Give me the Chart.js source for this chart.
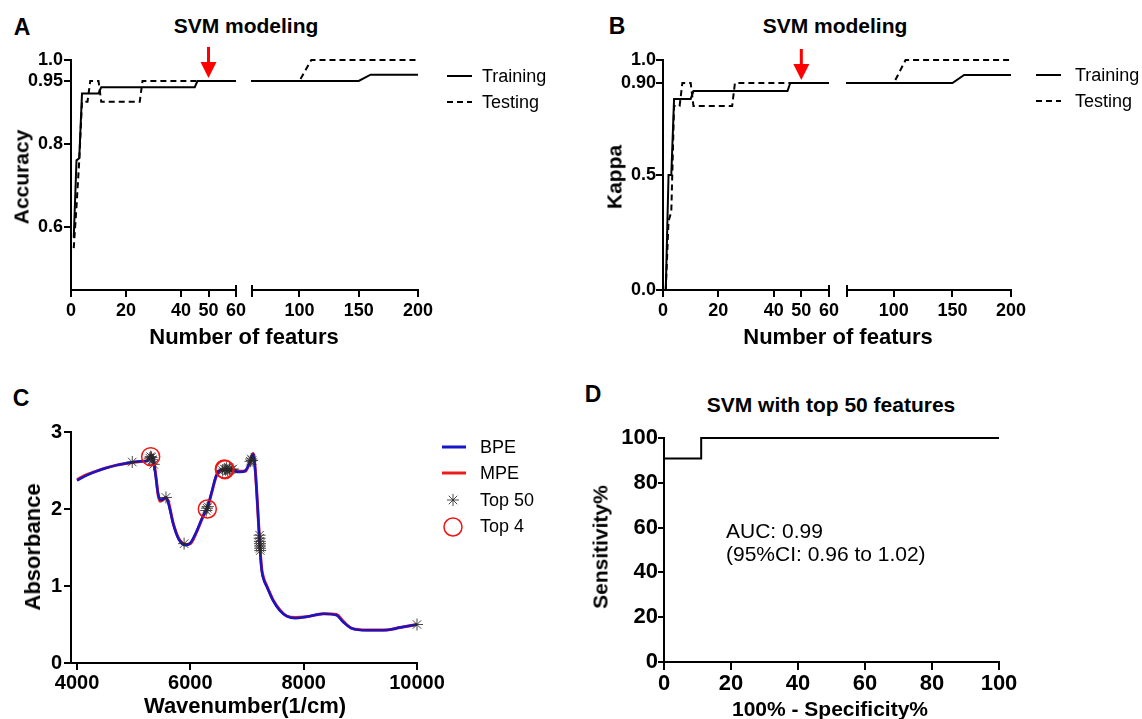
<!DOCTYPE html>
<html>
<head>
<meta charset="utf-8">
<script src="https://cdn.jsdelivr.net/npm/chart.js@4.4.1/dist/chart.umd.min.js"></script>
<style>
body { margin: 0; background: #fff; }
#fig { position: relative; width: 1142px; height: 719px; background: #fff; overflow: hidden;
       font-family: "Liberation Sans", Arial, Helvetica, sans-serif; color: #000; }
#fig canvas { position: absolute; }
.t { position: absolute; white-space: nowrap; line-height: 1; transform: translate(-50%, -50%); }
.b { font-weight: bold; }
.l { transform: translate(0, -50%); }
.v { transform: translate(-50%, -50%) rotate(-90deg); }
</style>
</head>
<body>
<div id="fig">
  <canvas id="a1"></canvas>
  <canvas id="a2"></canvas>
  <canvas id="b1"></canvas>
  <canvas id="b2"></canvas>
  <canvas id="c"></canvas>
  <canvas id="d"></canvas>

  <div class="t b" style="left:22px;top:27px;font-size:23px">A</div>
  <div class="t b" style="left:617px;top:26px;font-size:23px">B</div>
  <div class="t b" style="left:21px;top:398px;font-size:23px">C</div>
  <div class="t b" style="left:593px;top:394px;font-size:23px">D</div>

  <div class="t b" style="left:246px;top:25px;font-size:21px">SVM modeling</div>
  <div class="t b" style="left:835px;top:25px;font-size:21px">SVM modeling</div>
  <div class="t b v" style="left:21px;top:177px;font-size:21px">Accuracy</div>
  <div class="t b v" style="left:614px;top:177px;font-size:21px">Kappa</div>
  <div class="t b" style="left:244px;top:337px;font-size:22px">Number of featurs</div>
  <div class="t b" style="left:838px;top:337px;font-size:22px">Number of featurs</div>
  <div class="t l" style="left:482px;top:76px;font-size:18px">Training</div>
  <div class="t l" style="left:482px;top:102px;font-size:18px">Testing</div>
  <div class="t l" style="left:1075px;top:75px;font-size:18px">Training</div>
  <div class="t l" style="left:1075px;top:101px;font-size:18px">Testing</div>

  <div class="t b v" style="left:33px;top:547px;font-size:22px">Absorbance</div>
  <div class="t b" style="left:245px;top:706px;font-size:22px">Wavenumber(1/cm)</div>
  <div class="t l" style="left:480px;top:447px;font-size:18px">BPE</div>
  <div class="t l" style="left:480px;top:473px;font-size:18px">MPE</div>
  <div class="t l" style="left:480px;top:500px;font-size:18px">Top 50</div>
  <div class="t l" style="left:480px;top:526px;font-size:18px">Top 4</div>

  <div class="t b" style="left:831px;top:404px;font-size:21px">SVM with top 50 features</div>
  <div class="t b v" style="left:600px;top:547px;font-size:21px">Sensitivity%</div>
  <div class="t b" style="left:830px;top:708px;font-size:21px">100% - Specificity%</div>
  <div class="t l" style="left:726px;top:530px;font-size:21px">AUC: 0.99</div>
  <div class="t l" style="left:726px;top:553px;font-size:21px">(95%CI: 0.96 to 1.02)</div>
</div>

<script>
const FONT = "'Liberation Sans', Arial, Helvetica, sans-serif";

// A - accuracy vs number of features
const featTrainA = [1, 2, 3, 4, 10, 11, 45, 46, 60, 100, 150, 160, 200];
const accTrain   = [0.575, 0.76, 0.765, 0.92, 0.92, 0.935, 0.935, 0.95, 0.95, 0.95, 0.95, 0.965, 0.965];
const featTestA  = [1, 2, 3, 4, 6, 7, 10, 11, 25, 26, 60, 100, 110, 200];
const accTest    = [0.55, 0.65, 0.76, 0.90, 0.90, 0.95, 0.95, 0.90, 0.90, 0.95, 0.95, 0.95, 1.0, 1.0];

// B - kappa vs number of features
const featTrainB = [1, 2, 3, 4, 10, 11, 45, 46, 60, 100, 150, 160, 200];
const kapTrain   = [0, 0.5, 0.5, 0.83, 0.83, 0.865, 0.865, 0.90, 0.90, 0.90, 0.90, 0.935, 0.935];
const featTestB  = [1, 2, 3, 4, 6, 7, 10, 11, 25, 26, 60, 100, 110, 200];
const kapTest    = [0, 0.30, 0.34, 0.80, 0.80, 0.90, 0.90, 0.80, 0.80, 0.90, 0.90, 0.90, 1.0, 1.0];

const bestFeat = 50;   // red arrow
const tickFeat1 = [0, 20, 40, 50, 60];
const tickFeat1Labels = ['0', '20', '40', '50', '60'];
const tickFeat2 = [60, 100, 150, 200];
const tickFeat2Labels = ['', '100', '150', '200'];
const tickAcc = [0.6, 0.8, 0.95, 1.0];
const tickAccLabels = ['0.6', '0.8', '0.95', '1.0'];
const tickKap = [0, 0.5, 0.9, 1.0];
const tickKapLabels = ['0.0', '0.5', '0.90', '1.0'];

// C - spectra
const wavenumber = [4000, 4150, 4300, 4500, 4700, 4950, 5150, 5240, 5300, 5340, 5390, 5430, 5470, 5520, 5565,
  5610, 5700, 5800, 5920, 6000, 6110, 6230, 6300, 6380, 6460, 6550, 6700, 6880, 6970, 7050, 7110, 7145,
  7185, 7230, 7260, 7300, 7350, 7460, 7580, 7700, 7850, 8050, 8350, 8580, 8700, 8850, 9120, 9470, 9700, 10000];
const absBPE = [2.37, 2.43, 2.48, 2.53, 2.57, 2.605, 2.62, 2.62, 2.69, 2.66, 2.42, 2.20, 2.12, 2.13, 2.15,
  2.08, 1.80, 1.60, 1.53, 1.56, 1.71, 1.92, 2.02, 2.23, 2.44, 2.51, 2.50, 2.48, 2.50, 2.60, 2.71, 2.50,
  2.05, 1.47, 1.20, 1.07, 0.99, 0.81, 0.68, 0.61, 0.58, 0.60, 0.64, 0.62, 0.53, 0.45, 0.425, 0.43, 0.46, 0.50];
const absMPE = [2.38, 2.44, 2.48, 2.53, 2.57, 2.60, 2.62, 2.63, 2.70, 2.67, 2.44, 2.19, 2.10, 2.12, 2.15,
  2.10, 1.81, 1.61, 1.54, 1.55, 1.70, 1.91, 2.01, 2.22, 2.43, 2.50, 2.51, 2.49, 2.49, 2.61, 2.72, 2.52,
  2.06, 1.49, 1.22, 1.09, 1.00, 0.82, 0.69, 0.61, 0.59, 0.60, 0.64, 0.63, 0.54, 0.45, 0.43, 0.43, 0.46, 0.50];
const top50Wn  = [4975, 5285, 5300, 5315, 5330, 5355, 5570, 5890, 6280, 6295, 6310, 6570, 6600, 6620, 6640,
  6660, 6690, 6720, 6750, 7060, 7075, 7090, 7222, 7224, 7226, 7228, 7230, 7232, 7234, 10000];
const top50Abs = [2.61, 2.66, 2.68, 2.67, 2.64, 2.58, 2.15, 1.55, 1.98, 2.01, 2.03, 2.50, 2.52, 2.51, 2.53,
  2.50, 2.52, 2.51, 2.52, 2.62, 2.65, 2.63, 1.66, 1.62, 1.58, 1.55, 1.52, 1.49, 1.46, 0.50];
const top4Wn  = [5300, 6300, 6600, 6610];
const top4Abs = [2.68, 2.00, 2.52, 2.51];
const tickWn = [4000, 6000, 8000, 10000];
const tickWnLabels = ['4000', '6000', '8000', '10000'];
const tickAbs = [0, 1, 2, 3];
const tickAbsLabels = ['0', '1', '2', '3'];

// D - ROC
const rocFpr = [0, 0, 11.1, 11.1, 100];
const rocTpr = [0, 90.9, 90.9, 100, 100];
const tickPct = [0, 20, 40, 60, 80, 100];
const tickPctLabels = ['0', '20', '40', '60', '80', '100'];

const pts = (xs, ys) => xs.map((x, i) => ({x: x, y: ys[i]}));

function axis(kind, s, size, show) {
  return {
    type: 'linear', position: kind === 'x' ? 'bottom' : 'left', display: show !== false,
    min: s.min, max: s.max,
    afterBuildTicks: sc => { sc.ticks = s.ticks.map(v => ({value: v})); },
    afterFit: sc => { if (kind === 'x') sc.height = size; else sc.width = size; },
    ticks: {
      autoSkip: false, maxRotation: 0, minRotation: 0, padding: s.pad, color: '#000',
      font: {family: FONT, size: s.font, weight: 'bold'},
      callback: (v, i) => s.labels[i]
    },
    grid: {display: true, drawOnChartArea: false, drawTicks: true, tickLength: s.tick, color: '#000', lineWidth: 2},
    border: {display: true, color: '#000', width: 2}
  };
}

// arrows, broken-axis caps and legend keys
function extras(cfg, box) {
  return {
    id: 'extras',
    afterDraw(chart) {
      const ctx = chart.ctx, a = chart.chartArea;
      ctx.save();
      (cfg.caps || []).forEach(side => {
        const px = side === 'right' ? a.right : a.left;
        ctx.strokeStyle = '#000'; ctx.lineWidth = 2;
        ctx.beginPath(); ctx.moveTo(px, a.bottom - 5); ctx.lineTo(px, a.bottom + 7); ctx.stroke();
      });
      if (cfg.arrow) {
        const x = chart.scales.x.getPixelForValue(cfg.arrow.x);
        const y = chart.scales.y.getPixelForValue(cfg.arrow.y) - 3;
        ctx.fillStyle = '#f00';
        ctx.fillRect(x - 1.5, y - 31, 3, 16);
        ctx.beginPath(); ctx.moveTo(x - 8, y - 16); ctx.lineTo(x + 8, y - 16); ctx.lineTo(x, y); ctx.closePath(); ctx.fill();
      }
      (cfg.legend || []).forEach(it => {
        const x = it.x - box.x, y = it.y - box.y;
        ctx.setLineDash(it.dash || []);
        ctx.strokeStyle = it.color;
        if (it.type === 'line') {
          ctx.lineWidth = it.width;
          ctx.beginPath(); ctx.moveTo(x, y); ctx.lineTo(x + it.len, y); ctx.stroke();
        } else if (it.type === 'star') {
          ctx.lineWidth = 1;
          ctx.beginPath();
          for (let k = 0; k < 4; k++) {
            const r = k * Math.PI / 4;
            ctx.moveTo(x - Math.cos(r) * it.r, y - Math.sin(r) * it.r);
            ctx.lineTo(x + Math.cos(r) * it.r, y + Math.sin(r) * it.r);
          }
          ctx.stroke();
        } else {
          ctx.lineWidth = 1.5;
          ctx.beginPath(); ctx.arc(x, y, it.r, 0, Math.PI * 2); ctx.stroke();
        }
      });
      ctx.restore();
    }
  };
}

function makeChart(id, box, area, cfg) {
  const cv = document.getElementById(id);
  cv.width = box.w; cv.height = box.h;
  cv.style.left = box.x + 'px'; cv.style.top = box.y + 'px';
  const hasY = cfg.yShow !== false;
  return new Chart(cv, {
    type: 'scatter',
    data: {datasets: cfg.datasets},
    options: {
      responsive: false, animation: false, events: [],
      layout: {padding: {left: hasY ? 0 : area.l - box.x, top: area.t - box.y, right: box.x + box.w - area.r, bottom: 0}},
      plugins: {legend: {display: false}, tooltip: {enabled: false}},
      scales: {
        x: axis('x', cfg.x, box.y + box.h - area.b),
        y: axis('y', cfg.y, hasY ? area.l - box.x : 0, hasY)
      }
    },
    plugins: [extras(cfg.extras || {}, box)]
  });
}

function featureSets(fx1, fy1, fx2, fy2) {
  const base = {showLine: true, pointRadius: 0, borderColor: '#000', borderWidth: 2,
                clip: {left: 1, right: 1, top: 4, bottom: 4}};
  return [
    Object.assign({label: 'Training', data: pts(fx1, fy1)}, base),
    Object.assign({label: 'Testing', data: pts(fx2, fy2), borderDash: [6, 4]}, base)
  ];
}

const xSeg1 = {min: 0, max: 60, ticks: tickFeat1, labels: tickFeat1Labels, font: 18, pad: 3, tick: 7};
const xSeg2 = {min: 60, max: 200, ticks: tickFeat2, labels: tickFeat2Labels, font: 18, pad: 3, tick: 7};
const yAcc = {min: 0.45, max: 1.0, ticks: tickAcc, labels: tickAccLabels, font: 18, pad: 1, tick: 7};
const yKap = {min: 0, max: 1.0, ticks: tickKap, labels: tickKapLabels, font: 18, pad: 0, tick: 7};

// panel A
makeChart('a1', {x: 0, y: 40, w: 256, h: 300}, {l: 71, t: 60, r: 236, b: 290}, {
  datasets: featureSets(featTrainA, accTrain, featTestA, accTest),
  x: xSeg1, y: yAcc,
  extras: {caps: ['right'], arrow: {x: bestFeat, y: 0.95}}
});
makeChart('a2', {x: 240, y: 40, w: 330, h: 300}, {l: 252, t: 60, r: 418, b: 290}, {
  datasets: featureSets(featTrainA, accTrain, featTestA, accTest),
  x: xSeg2, y: yAcc, yShow: false,
  extras: {caps: ['left'], legend: [
    {type: 'line', x: 447, y: 76, len: 25, color: '#000', width: 2},
    {type: 'line', x: 447, y: 102, len: 25, color: '#000', width: 2, dash: [6, 4]}
  ]}
});

// panel B
makeChart('b1', {x: 592, y: 40, w: 256, h: 300}, {l: 663, t: 60, r: 829, b: 290}, {
  datasets: featureSets(featTrainB, kapTrain, featTestB, kapTest),
  x: xSeg1, y: yKap,
  extras: {caps: ['right'], arrow: {x: bestFeat, y: 0.90}}
});
makeChart('b2', {x: 835, y: 40, w: 307, h: 300}, {l: 847, t: 60, r: 1011, b: 290}, {
  datasets: featureSets(featTrainB, kapTrain, featTestB, kapTest),
  x: xSeg2, y: yKap, yShow: false,
  extras: {caps: ['left'], legend: [
    {type: 'line', x: 1036, y: 75, len: 25, color: '#000', width: 2},
    {type: 'line', x: 1036, y: 101, len: 25, color: '#000', width: 2, dash: [6, 4]}
  ]}
});

// panel C
makeChart('c', {x: 0, y: 412, w: 570, h: 305}, {l: 71, t: 432, r: 417, b: 663}, {
  datasets: [
    {label: 'Top 4', data: pts(top4Wn, top4Abs), pointStyle: 'circle', pointRadius: 9,
     pointBorderColor: '#f01414', pointBackgroundColor: 'rgba(0,0,0,0)', pointBorderWidth: 1.5, clip: false},
    {label: 'Top 50', data: pts(top50Wn, top50Abs), pointStyle: 'star', pointRadius: 6,
     pointBorderColor: 'rgba(40,40,40,0.85)', pointBorderWidth: 1, clip: false},
    {label: 'BPE', data: pts(wavenumber, absBPE), showLine: true, pointRadius: 0,
     borderColor: '#1616c8', borderWidth: 2.5, cubicInterpolationMode: 'monotone'},
    {label: 'MPE', data: pts(wavenumber, absMPE), showLine: true, pointRadius: 0,
     borderColor: '#ec1c1c', borderWidth: 3, cubicInterpolationMode: 'monotone'}
  ],
  x: {min: 3894, max: 10000, ticks: tickWn, labels: tickWnLabels, font: 20, pad: 1, tick: 7},
  y: {min: 0, max: 3, ticks: tickAbs, labels: tickAbsLabels, font: 20, pad: 2, tick: 7},
  extras: {legend: [
    {type: 'line', x: 442, y: 447, len: 24, color: '#1616c8', width: 3},
    {type: 'line', x: 442, y: 473, len: 24, color: '#ec1c1c', width: 3},
    {type: 'star', x: 453, y: 500, r: 6, color: 'rgba(40,40,40,0.85)'},
    {type: 'circle', x: 453, y: 527, r: 9, color: '#f01414'}
  ]}
});

// panel D
makeChart('d', {x: 580, y: 418, w: 562, h: 300}, {l: 664, t: 438, r: 999, b: 662}, {
  datasets: [
    {label: 'ROC', data: pts(rocFpr, rocTpr), showLine: true, pointRadius: 0,
     borderColor: '#000', borderWidth: 2, clip: {left: 2, right: 2, top: 3, bottom: 2}}
  ],
  x: {min: 0, max: 100, ticks: tickPct, labels: tickPctLabels, font: 22, pad: 1, tick: 8},
  y: {min: 0, max: 100, ticks: tickPct, labels: tickPctLabels, font: 22, pad: 0, tick: 6}
});
</script>
</body>
</html>
